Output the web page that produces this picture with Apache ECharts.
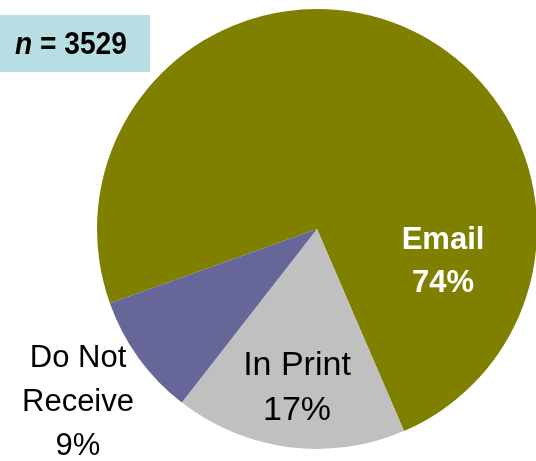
<!DOCTYPE html>
<html>
<head>
<meta charset="utf-8">
<script src="https://cdn.jsdelivr.net/npm/echarts@6/dist/echarts.min.js"></script>
<style>
  html, body { margin: 0; padding: 0; background: #fff; }
  #chart { width: 536px; height: 461px; }
</style>
</head>
<body>
<div id="chart"></div>
<script>
// Survey responses: how the newsletter is received
const categories = ['Email', 'In Print', 'Do Not\nReceive'];
const percents = [74, 17, 9];
const sliceColors = ['#808000', '#C0C0C0', '#666699'];
const sampleSize = 3529;

// Label anchor points (pixels) for each slice, in category order
const labelSpots = [[443, 262], [297, 388], [78, 402]];

const chart = echarts.init(document.getElementById('chart'), null, { renderer: 'canvas' });

const labelStyles = [
  { color: '#ffffff', fontWeight: 'bold', fontSize: 31, lineHeight: 43 },
  { color: '#000000', fontWeight: 'normal', fontSize: 34, lineHeight: 45 },
  { color: '#000000', fontWeight: 'normal', fontSize: 31, lineHeight: 44 }
];

chart.setOption({
  animation: false,
  backgroundColor: '#ffffff',
  graphic: [
    {
      type: 'rect',
      left: 0, top: 15,
      shape: { width: 150, height: 57 },
      style: { fill: '#B7DEE3' },
      z: 10
    },
    {
      type: 'text',
      x: 15, y: 45,
      scaleX: 0.88,
      style: {
        text: '{i|n}{b| = ' + sampleSize + '}',
        verticalAlign: 'middle',
        rich: {
          i: { fontFamily: 'Liberation Sans', fontSize: 32, fontWeight: 'bold', fontStyle: 'italic', fill: '#000' },
          b: { fontFamily: 'Liberation Sans', fontSize: 32, fontWeight: 'bold', fill: '#000' }
        }
      },
      z: 11
    }
  ],
  series: [{
    type: 'pie',
    center: [317, 229],
    radius: 220,
    startAngle: 199.7,
    clockwise: true,
    avoidLabelOverlap: false,
    itemStyle: { borderWidth: 0 },
    emphasis: { disabled: true },
    labelLine: { show: false },
    label: {
      show: true,
      fontFamily: 'Liberation Sans',
      fontSize: 32,
      lineHeight: 44,
      align: 'center',
      formatter: p => p.name + '\n' + p.value + '%'
    },
    labelLayout: function (params) {
      const s = labelSpots[params.dataIndex];
      return { x: s[0], y: s[1], align: 'center', verticalAlign: 'middle' };
    },
    data: categories.map((name, i) => ({
      name: name,
      value: percents[i],
      itemStyle: { color: sliceColors[i] },
      label: labelStyles[i]
    }))
  }]
});
</script>
</body>
</html>
